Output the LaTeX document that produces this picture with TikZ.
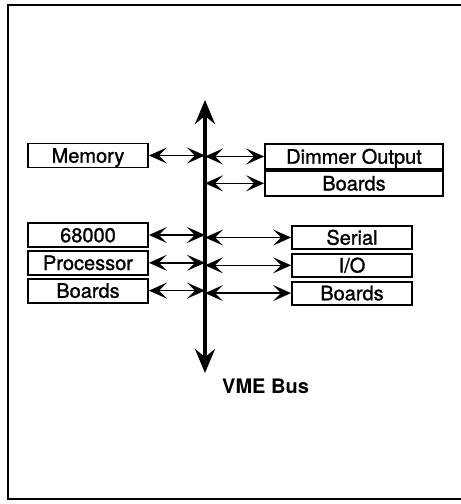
\documentclass[tikz,border=0pt]{standalone}
\usepackage{fontspec}
\setmainfont{TeX Gyre Heros}
\newfontfamily\boardfont[BoldFont={TeX Gyre Heros}, BoldFeatures={FakeBold=1.2}]{TeX Gyre Heros}
\usetikzlibrary{arrows.meta,positioning}

\begin{document}
\begin{tikzpicture}[
    x=1pt, y=-1pt,
    node distance=2pt and 2cm,
    board/.style={rectangle, draw, line width=1.8pt, minimum width=120pt, minimum height=24pt, inner sep=0pt, text height=14.4pt, text depth=0pt, font=\boardfont\bfseries\fontsize{20}{22}\selectfont},
    wideboard/.style={board, minimum width=178pt, minimum height=25pt},
    ioboard/.style={board, minimum height=23pt},
    arrow/.style={<->, >={Stealth[length=18pt, width=16pt, inset=8pt]}, line width=1.6pt},
    bus/.style={<->, >={Stealth[length=24pt, width=20pt, inset=8pt]}, line width=3.2pt},
    buslabel/.style={font=\bfseries\fontsize{20}{22}\selectfont, inner sep=0pt}
]
\useasboundingbox (0,0) rectangle (461,504);

% Frame (open on the right)
\draw[line width=1.4pt] (461,5) -- (8,5) -- (8,499) -- (461,499);

% VME Bus
\coordinate (bustop) at (205,100);
\coordinate (busbot) at (205,373);
\draw[bus] (bustop) -- (busbot);
\node[buslabel, anchor=base west] (vme) at (222,393) {VME Bus};

% Memory
\node[board] (mem) at (88,155.5) {Memory};

% Dimmer Output Boards
\node[wideboard] (dimmer) at (354,156.5) {Dimmer Output};
\node[wideboard, below=0pt of dimmer] (dimboards) {Boards};

% 68000 Processor Boards
\node[board] (cpu) at (88,235) {68000};
\node[board, below=of cpu] (proc) {Processor};
\node[board, below=of proc] (cpuboards) {Boards};

% Serial I/O Boards
\node[ioboard] (serial) at (352,237.5) {Serial};
\node[ioboard, below=3pt of serial] (io) {I/O};
\node[ioboard, below=3pt of io] (ioboards) {Boards};

% Arrows
\draw[arrow] (mem.east) -- (mem.east -| bustop);
\draw[arrow] (bustop |- dimmer.west) -- (dimmer.west);
\draw[arrow] (bustop |- dimboards.west) -- (dimboards.west);
\draw[arrow] (cpu.east) -- (cpu.east -| bustop);
\draw[arrow] (proc.east) -- (proc.east -| bustop);
\draw[arrow] (cpuboards.east) -- (cpuboards.east -| bustop);
\draw[arrow] (bustop |- serial.west) -- (serial.west);
\draw[arrow] (bustop |- io.west) -- (io.west);
\draw[arrow] (bustop |- ioboards.west) -- (ioboards.west);

\end{tikzpicture}
\end{document}
